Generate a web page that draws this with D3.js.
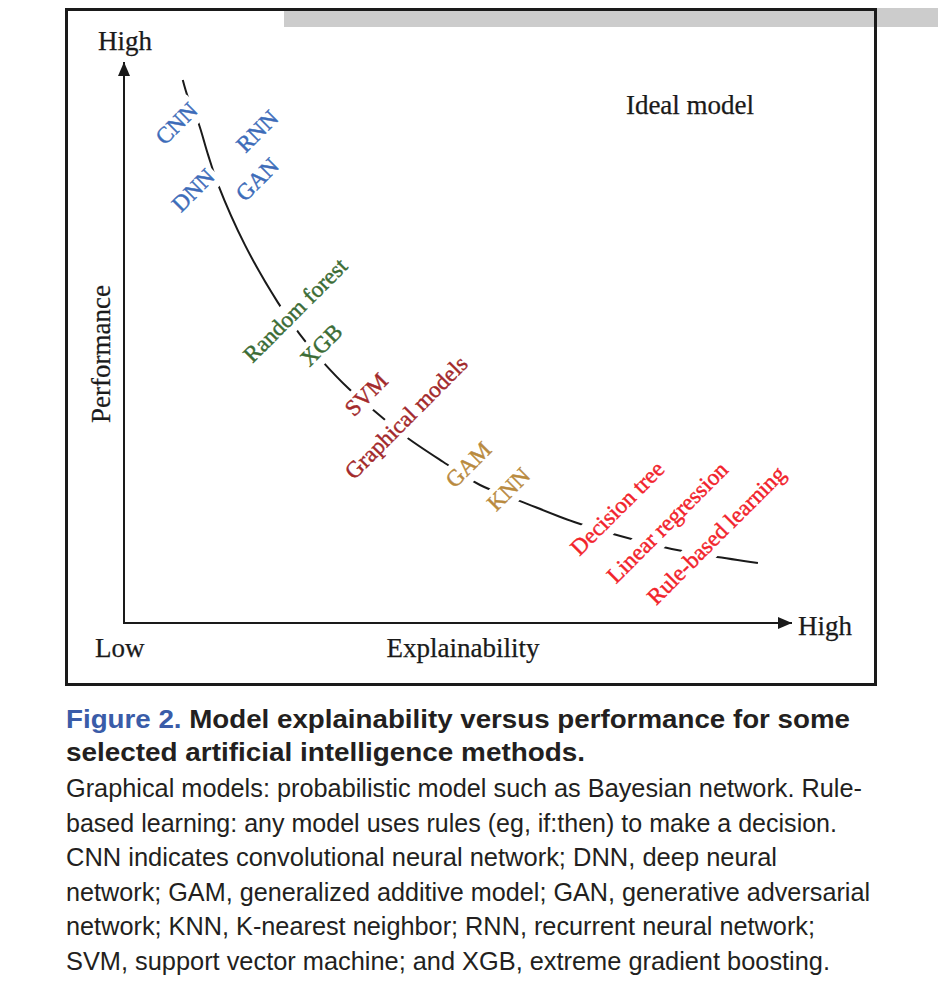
<!DOCTYPE html>
<html>
<head>
<meta charset="utf-8">
<script src="https://cdn.jsdelivr.net/npm/d3@7"></script>
<style>
  html, body { margin: 0; padding: 0; background: #fff; }
  svg { display: block; }
</style>
</head>
<body>
<svg id="fig" width="938" height="985"></svg>
<script>
/* ---- data: trade-off curve (explainability 0-100, performance 0-100) ---- */
const curveX = [8.8, 9.6, 11.1, 12.6, 14.1, 18.1, 23.0, 26.3, 29.8, 33.7, 37.9, 42.2, 47.8, 53.3, 59.6, 67.4, 74.3, 82.0, 88.2, 94.9];
const curveY = [96.8, 93.6, 89.3, 83.4, 78.1, 67.4, 57.2, 51.5, 46.5, 41.7, 37.4, 33.2, 28.7, 24.6, 21.6, 18.0, 15.5, 13.2, 11.9, 10.7];

/* ---- data: methods placed along the curve ---- */
const methodNames  = ['CNN', 'DNN', 'RNN', 'GAN', 'Random forest', 'XGB', 'SVM', 'Graphical models',
                      'GAM', 'KNN', 'Decision tree', 'Linear regression', 'Rule-based learning'];
const methodX      = [7.8, 10.3, 19.9, 19.9, 25.6, 29.5, 36.2, 42.2, 51.5, 57.5, 73.8, 81.3, 88.6];
const methodY      = [89.1, 77.2, 87.7, 79.1, 55.8, 49.6, 40.8, 36.7, 28.3, 23.9, 20.5, 18.0, 15.7];
const methodFamily = ['deep', 'deep', 'deep', 'deep', 'tree', 'tree', 'classic', 'classic',
                      'additive', 'additive', 'rules', 'rules', 'rules'];
const onCurve      = [true, true, false, false, true, true, true, true, true, true, true, true, true];

/* ---- data: axis / caption text ---- */
const axisTexts = { yHigh: 'High', xHigh: 'High', low: 'Low', xTitle: 'Explainability', yTitle: 'Performance', ideal: 'Ideal model' };
const captionLead  = 'Figure 2.';
const captionTitle = [' Model explainability versus performance for some', 'selected artificial intelligence methods.'];
const captionBody  = [
  'Graphical models: probabilistic model such as Bayesian network. Rule-',
  'based learning: any model uses rules (eg, if:then) to make a decision.',
  'CNN indicates convolutional neural network; DNN, deep neural',
  'network; GAM, generalized additive model; GAN, generative adversarial',
  'network; KNN, K-nearest neighbor; RNN, recurrent neural network;',
  'SVM, support vector machine; and XGB, extreme gradient boosting.'
];
// measured line widths in the figure (px)
const titleWidths = [784, 519];
const bodyWidths  = [796, 771, 711, 804, 749, 764];

/* ---- styling ---- */
const familyColor = d3.scaleOrdinal()
  .domain(['deep', 'tree', 'classic', 'additive', 'rules'])
  .range(['#3d6cb9', '#3b6c35', '#a3292b', '#b98a3e', '#f2232b']);
const serif = '"Liberation Serif", "Times New Roman", serif';
const sans  = '"Liberation Sans", Arial, Helvetica, sans-serif';

const svg = d3.select('#fig');

/* frame + grey strip */
svg.append('rect').attr('x', 284).attr('y', 8).attr('width', 654).attr('height', 19).attr('fill', '#cccccc');
svg.append('rect')
   .attr('x', 66.5).attr('y', 9.5).attr('width', 809).attr('height', 675)
   .attr('fill', 'none').attr('stroke', '#1a1a1a').attr('stroke-width', 3);

/* scales */
const x = d3.scaleLinear().domain([0, 100]).range([124, 792]);
const y = d3.scaleLinear().domain([0, 100]).range([623, 62]);

/* arrow marker */
svg.append('defs').append('marker')
   .attr('id', 'arrow')
   .attr('viewBox', '0 0 14 12')
   .attr('refX', 14).attr('refY', 6)
   .attr('markerWidth', 14).attr('markerHeight', 12)
   .attr('markerUnits', 'userSpaceOnUse')
   .attr('orient', 'auto')
   .append('path').attr('d', 'M0,0L14,6L0,12Z').attr('fill', '#1a1a1a');

/* axes */
svg.append('line')
   .attr('x1', x(0)).attr('y1', y(0) + 1).attr('x2', x(0)).attr('y2', y(100))
   .attr('stroke', '#1a1a1a').attr('stroke-width', 2).attr('marker-end', 'url(#arrow)');
svg.append('line')
   .attr('x1', x(0) - 1).attr('y1', y(0)).attr('x2', x(100)).attr('y2', y(0))
   .attr('stroke', '#1a1a1a').attr('stroke-width', 2).attr('marker-end', 'url(#arrow)');

const axisText = (tx, ty, s, anchor = 'start') =>
  svg.append('text').attr('x', tx).attr('y', ty).attr('text-anchor', anchor)
     .attr('font-family', serif).attr('font-size', 27).attr('fill', '#1a1a1a')
     .attr('stroke', '#1a1a1a').attr('stroke-width', 0.25).text(s);

axisText(98, 50, axisTexts.yHigh);
axisText(798, 635, axisTexts.xHigh);
axisText(95, 657, axisTexts.low);
axisText(463, 657, axisTexts.xTitle, 'middle');
axisText(690, 114, axisTexts.ideal, 'middle');
svg.append('text')
   .attr('transform', 'translate(110,354) rotate(-90)')
   .attr('text-anchor', 'middle')
   .attr('font-family', serif).attr('font-size', 27).attr('fill', '#1a1a1a')
   .attr('stroke', '#1a1a1a').attr('stroke-width', 0.25)
   .text(axisTexts.yTitle);

/* trade-off curve */
const curvePts = curveX.map((d, i) => [d, curveY[i]]);
svg.append('path')
   .datum(curvePts)
   .attr('fill', 'none').attr('stroke', '#1a1a1a').attr('stroke-width', 2)
   .attr('d', d3.line().x(d => x(d[0])).y(d => y(d[1])).curve(d3.curveCatmullRom.alpha(0.5)));

/* method labels, each knocking a gap out of the curve */
const methods = methodNames.map((name, i) => ({
  name, mx: methodX[i], my: methodY[i], family: methodFamily[i], cut: onCurve[i]
}));

const labels = svg.append('g').selectAll('g')
  .data(methods)
  .join('g')
  .attr('transform', d => `translate(${x(d.mx)},${y(d.my)}) rotate(-45)`);

labels.append('rect').attr('fill', '#fff');

const texts = labels.append('text')
  .attr('text-anchor', 'middle')
  .attr('dy', '0.35em')
  .attr('font-family', serif)
  .attr('font-size', 23)
  .attr('fill', d => familyColor(d.family))
  .attr('stroke', d => familyColor(d.family))
  .attr('stroke-width', 0.45)
  .text(d => d.name);

texts.each(function (d) {
  const b = this.getBBox();
  const pad = 3;
  d3.select(this.parentNode).select('rect')
    .attr('x', b.x - pad).attr('y', b.y - pad + 2)
    .attr('width', d.cut ? b.width + pad * 2 : 0)
    .attr('height', b.height + pad * 2 - 2);
});

/* caption */
const cap = svg.append('g').attr('fill', '#231f20').attr('font-family', sans);

const t1 = cap.append('text').attr('x', 66).attr('y', 728)
  .attr('font-size', 26).attr('font-weight', 'bold')
  .attr('textLength', titleWidths[0]).attr('lengthAdjust', 'spacingAndGlyphs');
t1.append('tspan').attr('fill', '#3a5ca8').text(captionLead);
t1.append('tspan').text(captionTitle[0]);

cap.append('text').attr('x', 66).attr('y', 761)
   .attr('font-size', 26).attr('font-weight', 'bold')
   .attr('textLength', titleWidths[1]).attr('lengthAdjust', 'spacingAndGlyphs')
   .text(captionTitle[1]);

cap.selectAll('text.body')
   .data(captionBody)
   .join('text')
   .attr('class', 'body')
   .attr('x', 66)
   .attr('y', (d, i) => 797 + i * 34.6)
   .attr('font-size', 25)
   .attr('textLength', (d, i) => bodyWidths[i])
   .attr('lengthAdjust', 'spacingAndGlyphs')
   .text(d => d);
</script>
</body>
</html>
